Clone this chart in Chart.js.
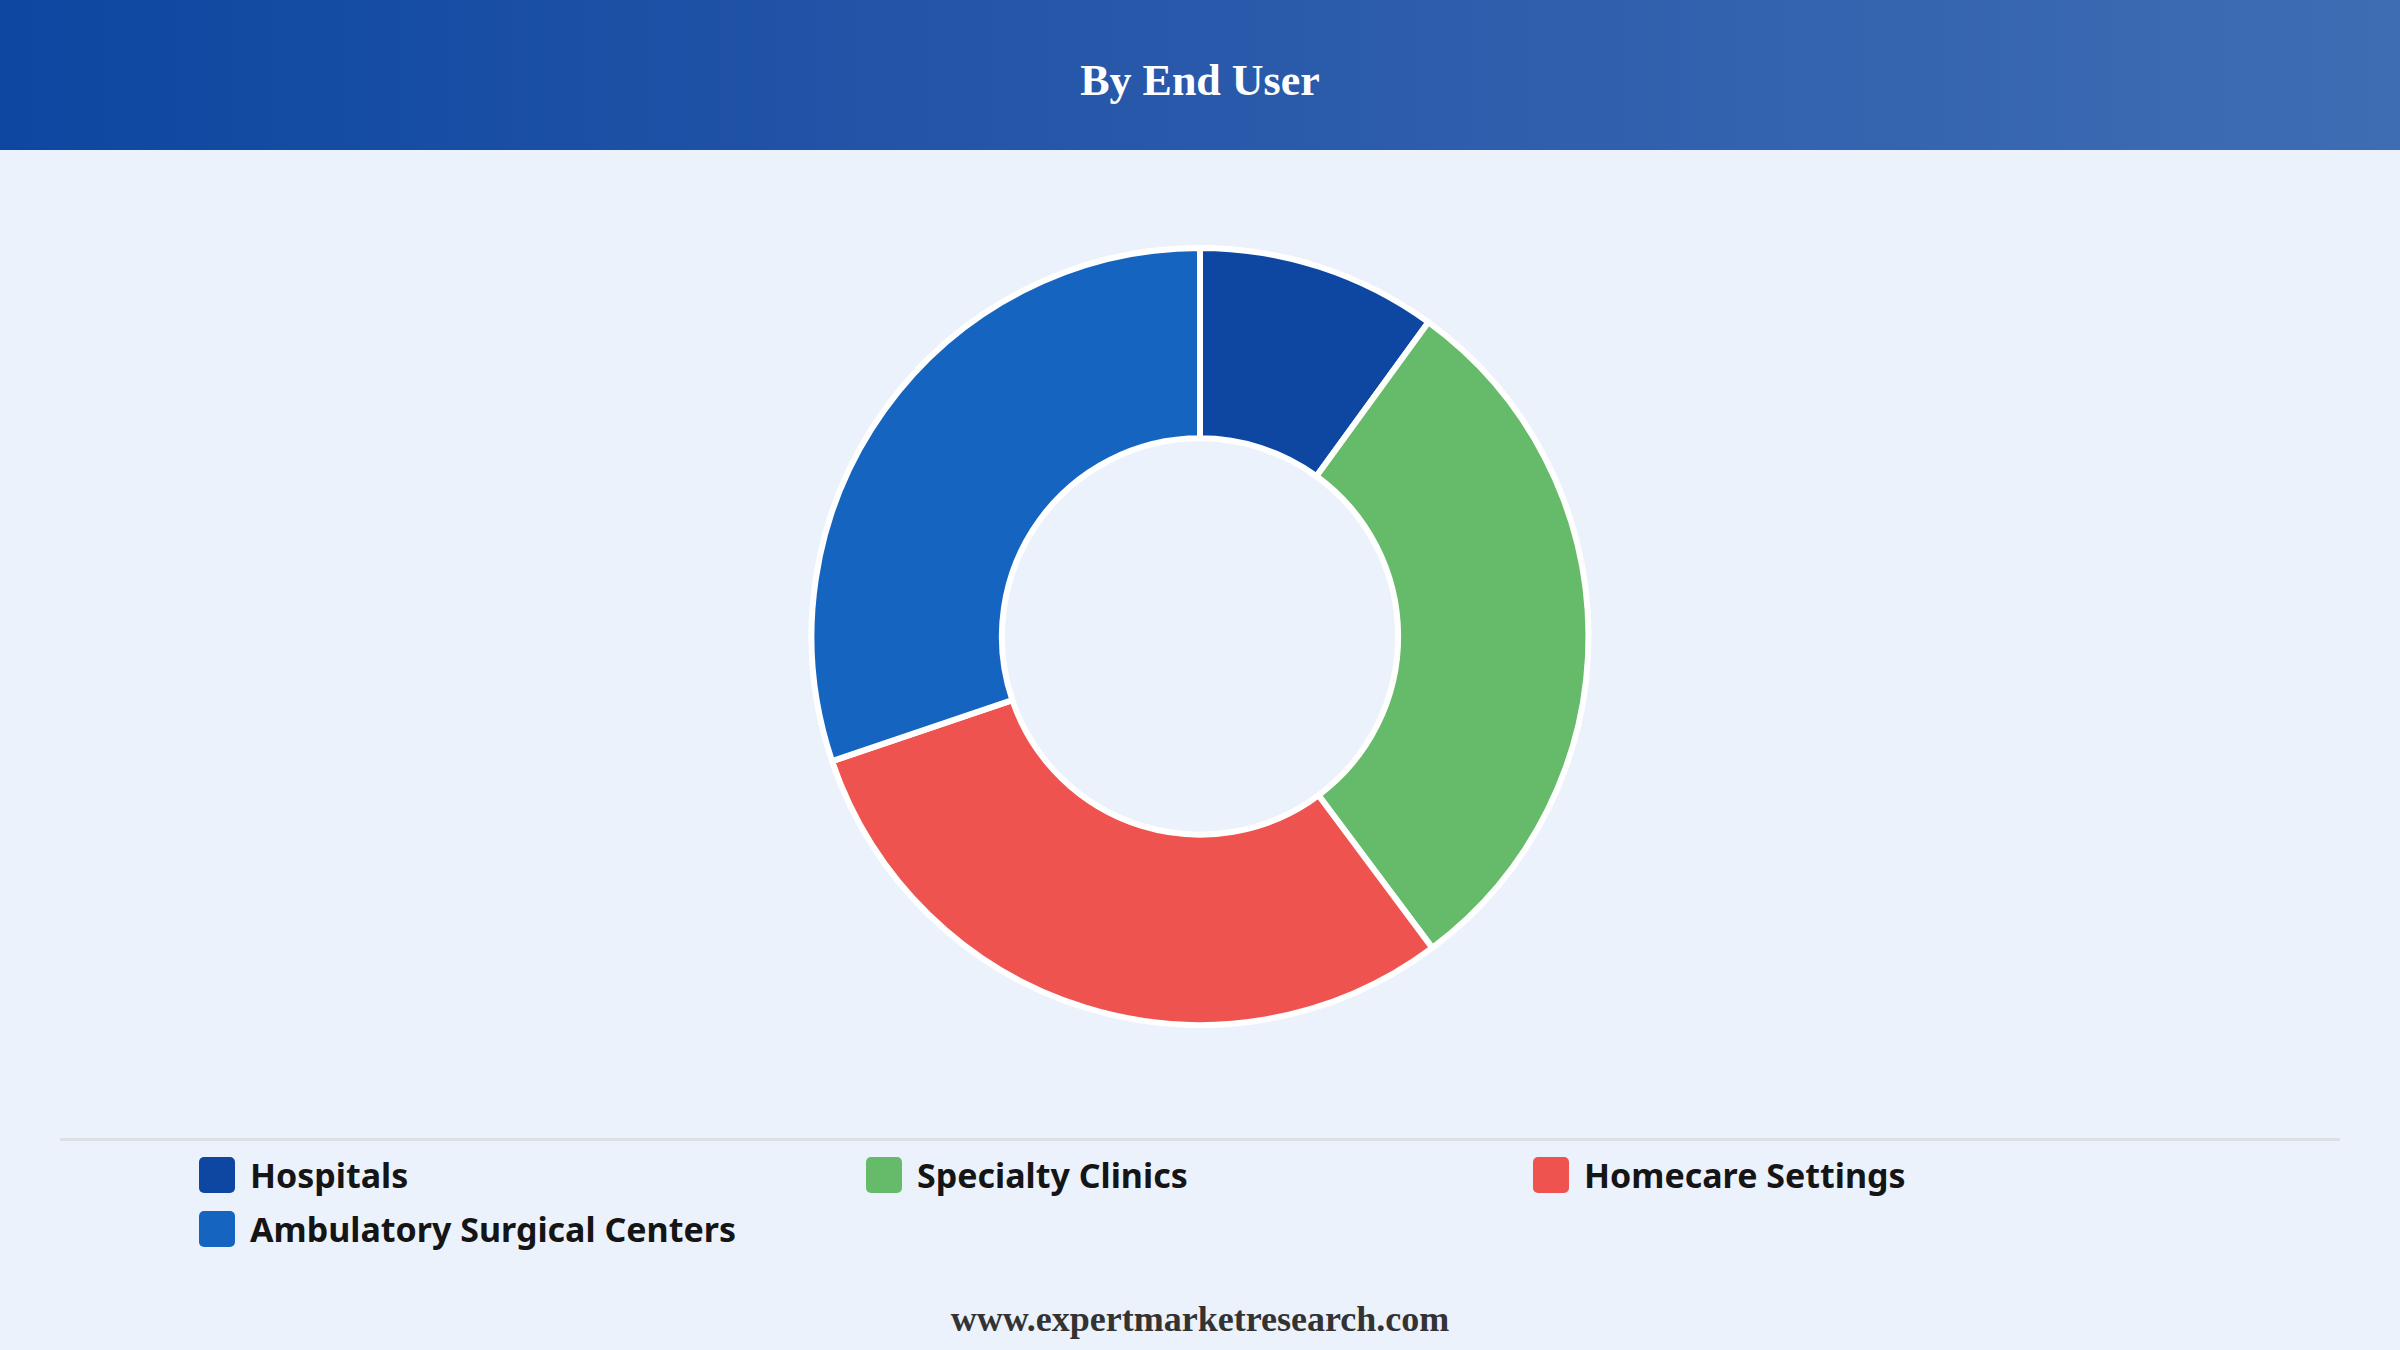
<!DOCTYPE html>
<html>
<head>
<meta charset="utf-8">
<script src="https://cdn.jsdelivr.net/npm/chart.js@4.4.1/dist/chart.umd.min.js"></script>
<style>
  html, body { margin: 0; padding: 0; }
  body { width: 2400px; height: 1350px; background: #ebf2fc; position: relative; overflow: hidden; }
  #header {
    position: absolute; left: 0; top: 0; width: 2400px; height: 150px;
    background: linear-gradient(90deg, #0d47a1 0%, #2455a8 40%, #3f6db4 100%);
  }
  #header h1 {
    margin: 0; width: 100%; text-align: center; color: #fff;
    font-family: "Liberation Serif", "Times New Roman", serif; font-weight: bold;
    font-size: 44px; line-height: 162px;
  }
  #wrap { position: absolute; left: 0; top: 245px; width: 2400px; height: 783px; }
  #sep { position: absolute; left: 60px; top: 1138px; width: 2280px; height: 3px; background: #dcdfe4; }
  #legend { position: absolute; left: 199px; top: 1154px; width: 2100px; }
  .item { position: absolute; height: 42px; display: flex; align-items: center; }
  .box { width: 36px; height: 36px; border-radius: 5px; margin-right: 15px; }
  .lbl { font-family: "Noto Sans", sans-serif; font-weight: 700; font-size: 34px; color: #151515; white-space: nowrap; }
  #footer {
    position: absolute; left: 0; top: 1298px; width: 2400px; text-align: center;
    font-family: "Liberation Serif", "Times New Roman", serif; font-weight: bold;
    font-size: 36px; color: #333;
  }
</style>
</head>
<body>
<div id="header"><h1>By End User</h1></div>
<div id="wrap"><canvas id="donut"></canvas></div>
<div id="sep"></div>
<div id="legend"></div>
<div id="footer">www.expertmarketresearch.com</div>
<script>
var labels = ["Hospitals", "Specialty Clinics", "Homecare Settings", "Ambulatory Surgical Centers"]
var shares = [10.0, 29.8, 30.0, 30.2]
var colors = ["#0d47a1", "#66bb6a", "#ef5350", "#1565c0"]

// donut
var chart = new Chart(document.getElementById("donut"), {
    type: 'doughnut',
    data: {
        labels: labels,
        datasets: [
            {
                data: shares,
                backgroundColor: colors,
                borderColor: "#ffffff",
                borderWidth: 6,
                hoverOffset: 0
            }
        ]
    },
    options: {
        responsive: true,
        maintainAspectRatio: false,
        animation: false,
        cutout: '51%',
        plugins: {
            legend: { display: false },
            tooltip: { enabled: false }
        }
    }
});

// legend in 3 columns, built from the chart's own legend items
var legendEl = document.getElementById("legend")
var items = chart.options.plugins.legend.labels.generateLabels(chart)
items.forEach(function (it, i) {
    var col = i % 3
    var row = Math.floor(i / 3)
    var div = document.createElement("div")
    div.className = "item"
    div.style.left = (col * 667) + "px"
    div.style.top = (row * 54) + "px"
    div.innerHTML = '<span class="box" style="background:' + it.fillStyle + '"></span><span class="lbl">' + it.text + '</span>'
    legendEl.appendChild(div)
})
</script>
</body>
</html>
